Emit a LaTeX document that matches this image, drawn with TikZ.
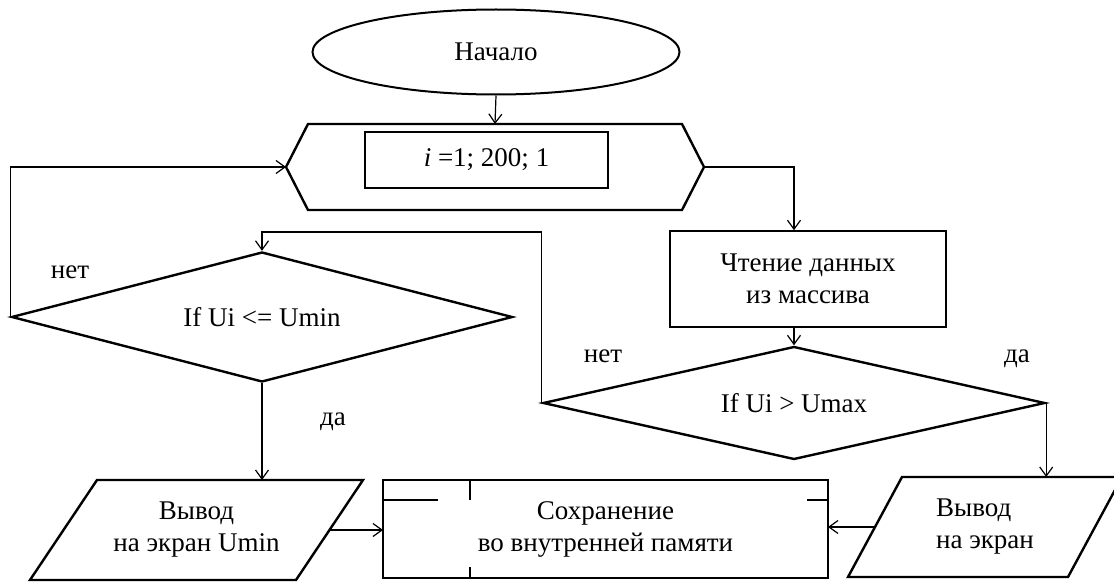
\documentclass[tikz,border=0pt]{standalone}
\usepackage{fontspec}
\setmainfont{Liberation Serif}
\usetikzlibrary{calc, positioning}
\usetikzlibrary{shapes.geometric}
\usetikzlibrary{arrows.meta}

\begin{document}
\begin{tikzpicture}[x=1pt,y=-1pt,
  font=\fontsize{27}{32}\selectfont,
  frame/.style={line width=2.4pt,line join=miter},
  link/.style={line width=1.2pt,-{Straight Barb[length=9pt,width=13pt,line width=1.2pt]}}]
\useasboundingbox (0,0) rectangle (1114,583);

\node[ellipse,draw,line width=2pt,minimum width=367pt,minimum height=85pt] (start) at (496,52) {Начало};

% cycle block
\node[minimum width=418pt,minimum height=86pt,outer sep=0pt] (cycle) at (495,167) {};
\draw[frame] (cycle.west) -- ($(cycle.north west)+(22,0)$) -- ($(cycle.north east)+(-22,0)$)
  -- (cycle.east) -- ($(cycle.south east)+(-22,0)$) -- ($(cycle.south west)+(22,0)$) -- cycle;
\node[draw,line width=1.2pt,minimum width=243pt,minimum height=56pt] (range) at (486.5,160) {\textit{i} =1; 200; 1};

\node[draw,line width=1.5pt,minimum width=276pt,minimum height=96pt,align=center] (read) at (808,279) {Чтение данных\\из массива};

\node[diamond,draw,frame,aspect=4.4,inner sep=0pt,minimum width=502pt,minimum height=113pt] (umax) at (794,403) {If Ui > Umax};
\node[diamond,draw,frame,aspect=3.85,inner sep=0pt,minimum width=501pt,minimum height=130pt] (umin) at (262,317) {If Ui <= Umin};

% storage
\node[minimum width=445pt,minimum height=98pt,outer sep=0pt,align=center] (store) at (605.5,529) {Сохранение\\во внутренней памяти};
\draw[frame] (store.north west) rectangle (store.south east);
\draw[frame] ($(store.north west)+(0,20)$) -- ++(55,0);
\draw[frame] ($(store.north west)+(87,0)$) -- ++(0,20);
\draw[frame] ($(store.south west)+(87,0)$) -- ++(0,-11);
\draw[frame] ($(store.north east)+(0,20)$) -- ++(-21,0);

% output blocks
\node[minimum width=333pt,minimum height=100pt,outer sep=0pt,align=center] (out1) at (196.5,530) {Вывод\\на экран Umin};
\draw[frame] ($(out1.north west)+(67,0)$) -- (out1.north east) -- ($(out1.south east)+(-67,0)$) -- (out1.south west) -- cycle;
\node[minimum width=274pt,minimum height=100pt,outer sep=0pt,align=left] (out2) at (985,527) {Вывод\\на экран};
\draw[frame] ($(out2.north west)+(54,0)$) -- (out2.north east) -- ($(out2.south east)+(-54,0)$) -- (out2.south west) -- cycle;
\coordinate (out1 side) at ($(out1.east)+(-33.5,0)$);
\coordinate (out2 side) at ($(out2.west)+(27,0)$);

% connectors
\draw[link] (start.south) -- (cycle.north);
\draw[link] (cycle.east) -| ([xshift=-14pt]read.north);
\draw[link] ([xshift=-14pt]read.south) -- (umax.north);
\draw[link] (umax.east) -- (umax.east |- out2.north);
\draw[link] (umax.west) -- ++(0,-171) -| (umin.north);
\draw[link] (umin.west) |- (cycle.west);
\draw[link] (umin.south) -- (umin.south |- out1.north);
\draw[link] (out1 side) -- (store.west |- out1 side);
\draw[link] (out2 side) -- (store.east |- out2 side);

\node (no1) at (70,272) {нет};
\node (yes1) at (333,422) {да};
\node (no2) at (603,356) {нет};
\node (yes2) at (1017,359) {да};
\end{tikzpicture}
\end{document}
